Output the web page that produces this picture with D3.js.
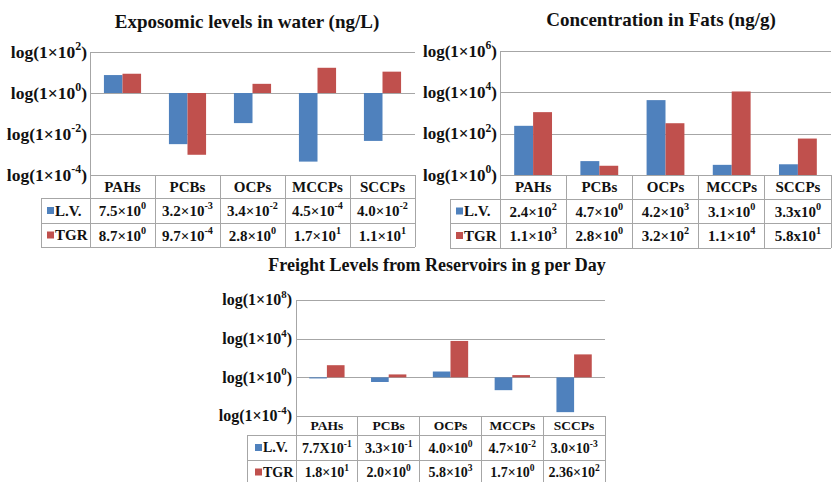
<!DOCTYPE html>
<html>
<head>
<meta charset="utf-8">
<script src="https://cdn.jsdelivr.net/npm/d3@7"></script>
<style>
  body { margin: 0; background: #fff; }
  svg { display: block; }
</style>
</head>
<body>
<div id="chart"></div>
<script>
// categorias y series comunes a los tres paneles
const CATEGORIES = ["PAHs", "PCBs", "OCPs", "MCCPs", "SCCPs"];
const SERIES = ["L.V.", "TGR"];
const COLORS = ["#4F81BD", "#C0504D"];

// Exposomic levels in water (ng/L) -- bar heights as drawn in the picture
const WATER_LV  = [7.5, 3.2e-3, 3.4e-2, 4.5e-4, 4.6e-3];
const WATER_TGR = [8.7, 9.7e-4, 2.8, 17, 11];
const WATER_LV_TXT  = ["7.5×10^0", "3.2×10^-3", "3.4×10^-2", "4.5×10^-4", "4.0×10^-2"];
const WATER_TGR_TXT = ["8.7×10^0", "9.7×10^-4", "2.8×10^0", "1.7×10^1", "1.1×10^1"];
const WATER_TICKS = [2, 0, -2, -4];

// Concentration in Fats (ng/g)
const FATS_LV  = [240, 4.7, 4200, 3.1, 3.3];
const FATS_TGR = [1100, 2.8, 320, 11000, 58];
const FATS_LV_TXT  = ["2.4×10^2", "4.7×10^0", "4.2×10^3", "3.1×10^0", "3.3x10^0"];
const FATS_TGR_TXT = ["1.1×10^3", "2.8×10^0", "3.2×10^2", "1.1×10^4", "5.8x10^1"];
const FATS_TICKS = [6, 4, 2, 0];

// Freight Levels from Reservoirs in g per Day
const FREIGHT_LV  = [0.77, 0.33, 4.0, 0.047, 2.5e-4];
const FREIGHT_TGR = [18, 2.0, 5800, 1.7, 236];
const FREIGHT_LV_TXT  = ["7.7X10^-1", "3.3×10^-1", "4.0×10^0", "4.7×10^-2", "3.0×10^-3"];
const FREIGHT_TGR_TXT = ["1.8×10^1", "2.0×10^0", "5.8×10^3", "1.7×10^0", "2.36×10^2"];
const FREIGHT_TICKS = [8, 4, 0, -4];

const W = 832, H = 482;
const FONT = "'Liberation Serif', 'Times New Roman', serif";
const LINE = "#A6A6A6";

const svg = d3.select("#chart").append("svg")
  .attr("width", W).attr("height", H)
  .attr("viewBox", [0, 0, W, H])
  .style("font-family", FONT)
  .style("font-weight", "bold")
  .style("fill", "#111");

// texto con superindice: base^exp + cola
function rich(sel, str, fs, tail) {
  const [base, exp] = str.split("^");
  sel.append("tspan").text(base);
  if (exp !== undefined) {
    sel.append("tspan").attr("dy", -fs * 0.45).attr("font-size", fs * 0.68).text(exp);
    if (tail) sel.append("tspan").attr("dy", fs * 0.45).text(tail);
  }
}

function panel(o) {
  const g = svg.append("g");
  const lo = o.ticks[o.ticks.length - 1], hi = o.ticks[0];
  const y = d3.scaleLog().domain([10 ** lo, 10 ** hi]).range([o.bottom, o.top]);
  const x = d3.scaleBand().domain(CATEGORIES).range([o.left, o.right]);
  const bw = x.bandwidth() / 3.5; // gap 150% estilo Excel

  // titulo
  g.append("text")
    .attr("x", o.titleX).attr("y", o.titleY)
    .attr("text-anchor", "middle")
    .attr("font-size", o.titleSize)
    .text(o.title);

  // lineas de grilla
  g.selectAll("line.grid").data(o.ticks).join("line")
    .attr("class", "grid")
    .attr("x1", o.left).attr("x2", o.right)
    .attr("y1", d => Math.round(y(10 ** d)) + 0.5)
    .attr("y2", d => Math.round(y(10 ** d)) + 0.5)
    .attr("stroke", LINE);

  // etiquetas del eje y
  g.selectAll("text.ylab").data(o.ticks).join("text")
    .attr("class", "ylab")
    .attr("x", o.left - o.labelGap)
    .attr("y", d => y(10 ** d) + o.labelSize * 0.33)
    .attr("text-anchor", "end")
    .attr("font-size", o.labelSize)
    .each(function(d) { rich(d3.select(this), "log(1×10^" + d, o.labelSize, ")"); });

  // barras
  [o.lv, o.tgr].forEach((vals, i) => {
    g.selectAll(null).data(vals.map((v, j) => ({ c: CATEGORIES[j], v }))).join("rect")
      .attr("x", d => x(d.c) + bw * 0.75 + i * bw)
      .attr("width", bw)
      .attr("y", d => Math.min(y(d.v), y(1)))
      .attr("height", d => Math.abs(y(d.v) - y(1)))
      .attr("fill", COLORS[i]);
  });

  // tabla de datos
  const rows = [o.bottom, o.r1, o.r2, o.r3];
  const t = g.append("g").attr("stroke", LINE).attr("shape-rendering", "crispEdges");
  t.append("line").attr("x1", o.left + 0.5).attr("x2", o.left + 0.5).attr("y1", o.top).attr("y2", o.r3);
  t.selectAll(null).data(CATEGORIES).join("line")
    .attr("x1", d => x(d) + x.bandwidth()).attr("x2", d => x(d) + x.bandwidth())
    .attr("y1", o.bottom).attr("y2", o.r3);
  t.selectAll(null).data(rows.slice(1)).join("line")
    .attr("x1", o.rowLeft).attr("x2", o.right).attr("y1", d => d).attr("y2", d => d);
  t.append("line").attr("x1", o.rowLeft).attr("x2", o.rowLeft).attr("y1", o.r1).attr("y2", o.r3);

  // cabecera de categorias
  g.selectAll(null).data(CATEGORIES).join("text")
    .attr("x", d => x(d) + x.bandwidth() / 2)
    .attr("y", (o.bottom + o.r1) / 2 + o.headSize * 0.35)
    .attr("text-anchor", "middle")
    .attr("font-size", o.headSize)
    .text(d => d);

  // filas de valores
  [o.lvTxt, o.tgrTxt].forEach((txt, i) => {
    const cy = (rows[i + 1] + rows[i + 2]) / 2;
    g.append("rect")
      .attr("x", o.rowLeft + o.keyOff).attr("y", cy - 3.5)
      .attr("width", 7).attr("height", 7)
      .attr("fill", COLORS[i]);
    g.append("text")
      .attr("x", o.rowLeft + o.keyOff + 8).attr("y", cy + o.cellSize * 0.35)
      .attr("font-size", o.cellSize)
      .text(SERIES[i]);
    g.selectAll(null).data(txt.map((s, j) => ({ c: CATEGORIES[j], s }))).join("text")
      .attr("x", d => x(d.c) + x.bandwidth() / 2)
      .attr("y", cy + o.cellSize * 0.38)
      .attr("text-anchor", "middle")
      .attr("font-size", o.cellSize)
      .each(function(d) { rich(d3.select(this), d.s, o.cellSize); });
  });
}

panel({
  title: "Exposomic levels in water (ng/L)", titleX: 247, titleY: 28, titleSize: 19,
  left: 90, right: 415, top: 52, bottom: 175, r1: 198, r2: 223, r3: 247, rowLeft: 41,
  ticks: WATER_TICKS, labelSize: 17.5, labelGap: 3,
  headSize: 15, cellSize: 15, keyOff: 6,
  lv: WATER_LV, tgr: WATER_TGR, lvTxt: WATER_LV_TXT, tgrTxt: WATER_TGR_TXT
});

panel({
  title: "Concentration in Fats (ng/g)", titleX: 661, titleY: 26, titleSize: 19,
  left: 500, right: 831, top: 51, bottom: 175, r1: 199, r2: 223, r3: 248, rowLeft: 450,
  ticks: FATS_TICKS, labelSize: 17, labelGap: 3,
  headSize: 15, cellSize: 15, keyOff: 6,
  lv: FATS_LV, tgr: FATS_TGR, lvTxt: FATS_LV_TXT, tgrTxt: FATS_TGR_TXT
});

panel({
  title: "Freight Levels from Reservoirs in g per Day", titleX: 437, titleY: 271, titleSize: 18,
  left: 296, right: 605, top: 300, bottom: 416, r1: 435, r2: 460, r3: 484, rowLeft: 247,
  ticks: FREIGHT_TICKS, labelSize: 16, labelGap: 4,
  headSize: 13.5, cellSize: 14, keyOff: 8,
  lv: FREIGHT_LV, tgr: FREIGHT_TGR, lvTxt: FREIGHT_LV_TXT, tgrTxt: FREIGHT_TGR_TXT
});
</script>
</body>
</html>
